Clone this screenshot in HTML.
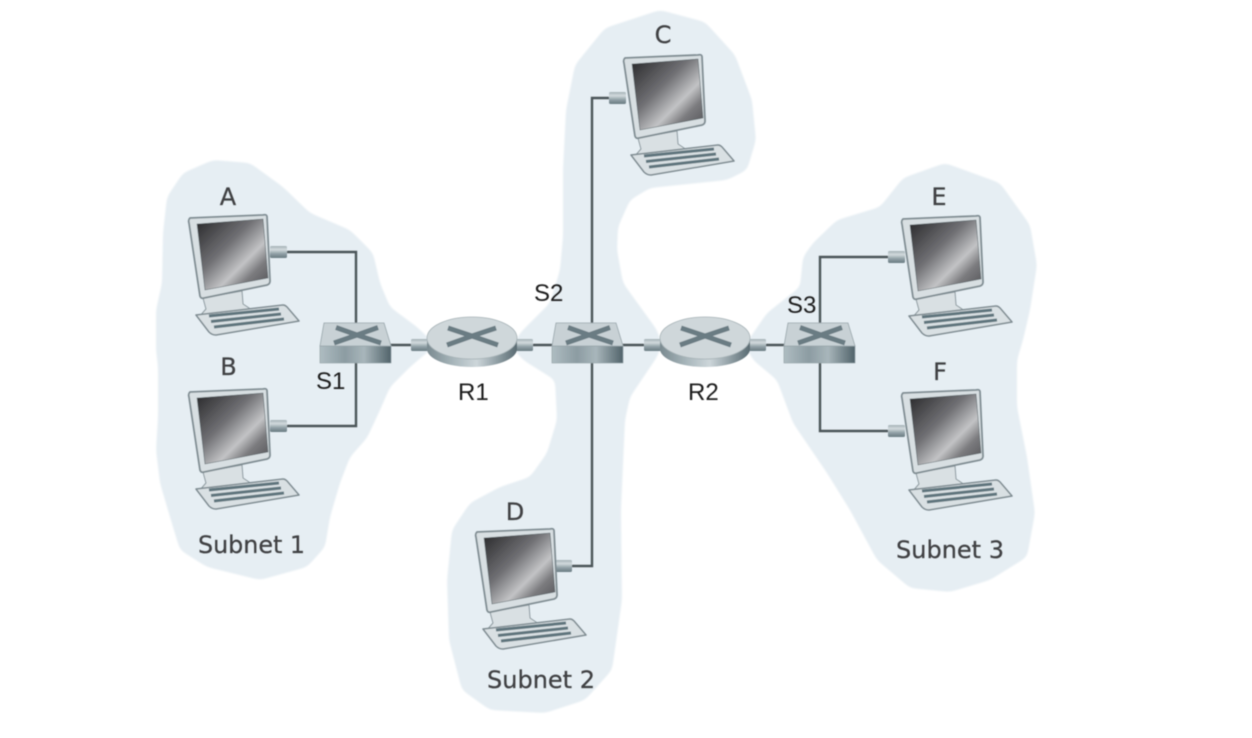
<!DOCTYPE html>
<html><head><meta charset="utf-8"><style>
html,body{margin:0;padding:0;background:#fff;width:1252px;height:738px;overflow:hidden}
svg{display:block}
</style></head><body>
<svg width="1252" height="738" viewBox="0 0 1252 738" xmlns="http://www.w3.org/2000/svg">
<defs>
<linearGradient id="scr" x1="0" y1="0" x2="1" y2="1">
<stop offset="0" stop-color="#28282a"/><stop offset=".4" stop-color="#707074"/><stop offset=".64" stop-color="#c2c3c5"/><stop offset=".78" stop-color="#7b7b7e"/><stop offset="1" stop-color="#505054"/>
</linearGradient>
<linearGradient id="met" x1="0" y1="0" x2="1" y2="0">
<stop offset="0" stop-color="#aebcc1"/><stop offset=".35" stop-color="#8c9ca2"/><stop offset=".62" stop-color="#a8b6bb"/><stop offset="1" stop-color="#51636a"/>
</linearGradient>
<linearGradient id="rt" x1="0" y1="0" x2="1" y2="0">
<stop offset="0" stop-color="#7a8a90"/><stop offset=".3" stop-color="#a9b7bc"/><stop offset=".55" stop-color="#cdd6da"/><stop offset=".8" stop-color="#8b9aa0"/><stop offset="1" stop-color="#5a6b72"/>
</linearGradient>
<linearGradient id="con" x1="0" y1="0" x2="0" y2="1">
<stop offset="0" stop-color="#a3b1b6"/><stop offset=".3" stop-color="#d2dadd"/><stop offset=".65" stop-color="#8f9fa5"/><stop offset="1" stop-color="#6a7b82"/>
</linearGradient>
<g id="pc" stroke-linejoin="round">
<path d="M203 298 L206 309 L199 317 L203 323 L250 317 L252 310 L243 304 L242 291Z" fill="#d9e0e3" stroke="#8a979d" stroke-width="1"/>
<path d="M190 218 Q188 220 189 223 L200 296 Q201 299 204 298 L267 285 Q270 284 270 281 L267 217 Q267 214 263 215Z" fill="#d8dfe2" stroke="#7f8c92" stroke-width="1.800"/>
<path d="M197 224 L263 219 L268 278 L205 290Z" fill="url(#scr)" stroke="#5c686d" stroke-width=".6"/>
<path d="M196 315 L283 305 Q285 305 287 307 L299 321 L216 335 Q212 335 209 332Z" fill="#d9e0e3" stroke="#7f8c92" stroke-width="1.500"/>
<path d="M209 316 L279 309 M211 321.500 L281 314 M214 327 L284 319" stroke="#5f747d" stroke-width="3" fill="none"/>
</g>
<g id="sw">
<path d="M320 346 L391 346 L391 363 L320 363Z" fill="url(#met)" stroke="#8d9ba0" stroke-width=".6"/>
<path d="M324 323 L384 323 L391 346 L320 346Z" fill="#c8d1d5" stroke="#97a4a9" stroke-width=".8"/>
<path d="M336 327.500 L357 335 L378 327.500 M334 343 L357 335 L381 343" stroke="#6a7c83" stroke-width="5" fill="none"/>
</g>
<g id="rtr">
<path d="M427 338 L427 349 A45 18 0 0 0 517 349 L517 338Z" fill="url(#rt)"/>
<ellipse cx="472" cy="338" rx="45" ry="21" fill="#cfd7da" stroke="#a6b2b6" stroke-width=".8"/>
<path d="M448 328 L472 336 L496 328 M447 345 L472 336 L498 345" stroke="#6a7c83" stroke-width="5" fill="none"/>
</g>
<rect id="cn" x="0" y="0" width="17" height="12" rx="1.500" fill="url(#con)"/>
<filter id="soft" filterUnits="userSpaceOnUse" x="0" y="0" width="1252" height="738"><feGaussianBlur stdDeviation=".45"/></filter>
<filter id="rnd" filterUnits="userSpaceOnUse" x="0" y="0" width="1252" height="738">
<feGaussianBlur in="SourceAlpha" stdDeviation="4"/>
<feComponentTransfer><feFuncA type="linear" slope="5" intercept="-2"/></feComponentTransfer>
<feGaussianBlur stdDeviation=".7" result="a"/>
<feFlood flood-color="#e6eef3"/>
<feComposite in2="a" operator="in"/>
</filter>
</defs>
<rect width="1252" height="738" fill="#fff"/>
<g filter="url(#rnd)" fill="#000">
<polygon points="213,160 250,163 283,187 310,213 350,230 373,253 380,283 390,307 417,327 436,345 410,367 390,387 380,410 367,438 350,457 340,483 330,517 325,547 307,567 260,580 207,567 180,550 170,517 160,483 156,450 158,417 158,367 156,350 156,310 162,283 163,233 167,197 183,173"/>
<polygon points="660,10 705,22 735,55 752,100 756,140 747,170 727,180 650,188 630,200 618,227 617,250 623,283 657,330 662,345 657,357 630,397 625,420 621,510 622,600 612,670 585,700 545,713 490,710 462,690 449,640 447,580 452,530 470,503 500,487 530,477 547,453 557,420 555,380 523,360 512,347 520,333 550,303 560,270 563,237 563,170 566,110 575,65 605,28"/>
<polygon points="745,345 767,313 800,287 803,257 813,243 837,220 880,207 903,178 945,163 1000,183 1030,225 1037,265 1030,310 1023,340 1017,360 1017,407 1027,457 1035,513 1027,557 990,580 950,592 910,588 877,560 850,510 827,473 793,423 777,380 753,360"/>
</g>
<g filter="url(#soft)">
<g fill="none" stroke="#4c5458" stroke-width="2.400">
<path d="M285 252 H356 V325"/>
<path d="M285 426 H356 V360"/>
<path d="M609 98 H592 V566 H572"/>
<path d="M888 257 H820 V325"/>
<path d="M888 431 H820 V360"/>
<path d="M390 345 H412 M530 345 H554 M622 345 H644 M764 345 H786"/>
</g>
<use href="#cn" x="270" y="246"/>
<use href="#cn" x="270" y="420"/>
<use href="#cn" x="609" y="92"/>
<use href="#cn" x="555" y="560"/>
<use href="#cn" x="888" y="251"/>
<use href="#cn" x="888" y="425"/>
<use href="#cn" x="411" y="339"/>
<use href="#cn" x="516" y="339"/>
<use href="#cn" x="644" y="339"/>
<use href="#cn" x="749" y="339"/>
<use href="#pc"/>
<use href="#pc" x="0" y="174"/>
<use href="#pc" x="435" y="-160"/>
<use href="#pc" x="287" y="314"/>
<use href="#pc" x="713" y="1"/>
<use href="#pc" x="713" y="175"/>
<use href="#sw"/>
<use href="#sw" x="232"/>
<use href="#sw" x="464"/>
<use href="#rtr"/>
<use href="#rtr" x="233"/>
<g font-family="'DejaVu Sans','Liberation Sans',sans-serif" fill="#3f4143" stroke="#3f4143" stroke-width=".25" font-size="24">
<text x="228" y="205" text-anchor="middle">A</text>
<text x="228.500" y="375" text-anchor="middle">B</text>
<text x="663" y="43" text-anchor="middle">C</text>
<text x="515" y="520" text-anchor="middle">D</text>
<text x="939" y="205" text-anchor="middle">E</text>
<text x="940" y="380" text-anchor="middle">F</text>
<text x="198" y="553" textLength="107" lengthAdjust="spacingAndGlyphs">Subnet 1</text>
<text x="487" y="688" textLength="108" lengthAdjust="spacingAndGlyphs">Subnet 2</text>
<text x="896" y="558" textLength="108" lengthAdjust="spacingAndGlyphs">Subnet 3</text>
</g>
<g font-family="'Liberation Sans',sans-serif" fill="#1c1c1c" font-size="24">
<text x="316" y="389">S1</text>
<text x="458" y="400">R1</text>
<text x="534" y="301">S2</text>
<text x="688" y="400">R2</text>
<text x="787" y="313">S3</text>
</g>
</g>
</svg>
</body></html>
